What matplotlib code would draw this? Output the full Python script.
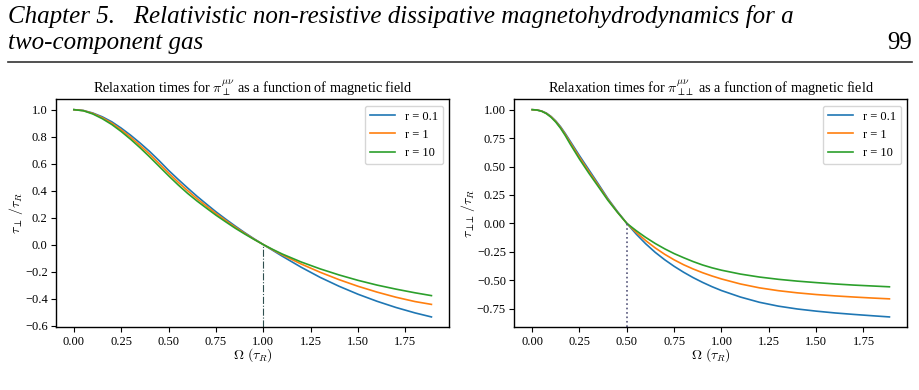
import matplotlib.pyplot as plt
from matplotlib.lines import Line2D

plt.rcParams['font.family'] = ['Liberation Serif', 'DejaVu Serif']
plt.rcParams['mathtext.fontset'] = 'cm'
plt.rcParams['font.size'] = 9

# values
r_labels = ["r = 0.1", "r = 1", "r = 10"]
colors = ["#1f77b4", "#ff7f0e", "#2ca02c"]

# left panel: tau_perp / tau_R
omega_left = [0, 0.05, 0.1, 0.15, 0.2, 0.25, 0.3, 0.35, 0.4, 0.45, 0.5,
              0.55, 0.6, 0.65, 0.7, 0.75, 0.8, 0.85, 0.9, 0.95, 1.0,
              1.05, 1.1, 1.2, 1.3, 1.4, 1.5, 1.6, 1.7, 1.8, 1.887]
tau_perp_r01 = [1.0, 0.994, 0.975, 0.947, 0.91, 0.863, 0.81, 0.752, 0.69, 0.622, 0.55,
                0.484, 0.42, 0.358, 0.30, 0.243, 0.19, 0.139, 0.09, 0.044, 0.0,
                -0.043, -0.086, -0.168, -0.243, -0.309, -0.368, -0.42, -0.466, -0.506, -0.536]
tau_perp_r1 = [1.0, 0.993, 0.972, 0.94, 0.90, 0.85, 0.795, 0.734, 0.67, 0.60, 0.53,
               0.463, 0.40, 0.34, 0.285, 0.23, 0.18, 0.131, 0.085, 0.041, 0.0,
               -0.039, -0.076, -0.144, -0.205, -0.26, -0.309, -0.352, -0.39, -0.422, -0.443]
tau_perp_r10 = [1.0, 0.992, 0.968, 0.933, 0.89, 0.838, 0.78, 0.717, 0.65, 0.58, 0.51,
                0.443, 0.38, 0.323, 0.27, 0.218, 0.17, 0.123, 0.08, 0.039, 0.0,
                -0.036, -0.07, -0.129, -0.18, -0.225, -0.265, -0.30, -0.33, -0.357, -0.378]

# right panel: tau_perpperp / tau_R
omega_right = [0, 0.025, 0.05, 0.075, 0.1, 0.125, 0.15, 0.175, 0.2, 0.25, 0.3,
               0.35, 0.4, 0.45, 0.5, 0.55, 0.6, 0.65, 0.7, 0.75, 0.8, 0.85, 0.9, 0.95,
               1.0, 1.1, 1.2, 1.3, 1.4, 1.5, 1.6, 1.7, 1.8, 1.887]
tau_pp_r01 = [1.0, 0.997, 0.988, 0.97, 0.94, 0.90, 0.85, 0.79, 0.725, 0.595, 0.47,
              0.345, 0.218, 0.105, 0.0, -0.095, -0.18, -0.255, -0.32, -0.378, -0.43,
              -0.477, -0.519, -0.557,
              -0.591, -0.648, -0.694, -0.728, -0.753, -0.772, -0.788, -0.801, -0.813, -0.823]
tau_pp_r1 = [1.0, 0.997, 0.987, 0.967, 0.937, 0.895, 0.843, 0.781, 0.713, 0.58, 0.455,
             0.333, 0.21, 0.10, 0.0, -0.08, -0.152, -0.216, -0.272, -0.321, -0.364,
             -0.401, -0.434, -0.463,
             -0.489, -0.533, -0.567, -0.592, -0.611, -0.626, -0.638, -0.648, -0.657, -0.664]
tau_pp_r10 = [1.0, 0.997, 0.986, 0.965, 0.933, 0.89, 0.836, 0.772, 0.70, 0.565, 0.44,
              0.322, 0.203, 0.098, 0.0, -0.065, -0.124, -0.177, -0.224, -0.266, -0.302,
              -0.336, -0.366, -0.391,
              -0.412, -0.446, -0.472, -0.492, -0.508, -0.521, -0.533, -0.543, -0.551, -0.558]

fig = plt.figure(figsize=(9.2, 3.9), dpi=100)

# page header
fig.text(8 / 920, 1 - 17 / 390,
         "Chapter 5.   Relativistic non-resistive dissipative magnetohydrodynamics for a",
         style="italic", fontsize=18, va="center", ha="left")
fig.text(8 / 920, 1 - 43 / 390, "two-component gas",
         style="italic", fontsize=18, va="center", ha="left")
fig.text(912 / 920, 1 - 43 / 390, "99", fontsize=18, va="center", ha="right")
fig.add_artist(Line2D([8 / 920, 912 / 920], [1 - 62 / 390, 1 - 62 / 390],
                      color="#333333", lw=1.2))

ax1 = fig.add_axes([56 / 920, 62.7 / 390, 393.3 / 920, 228 / 390])
ax2 = fig.add_axes([514.3 / 920, 62.7 / 390, 393 / 920, 228 / 390])

for ys, lab, c in zip([tau_perp_r01, tau_perp_r1, tau_perp_r10], r_labels, colors):
    ax1.plot(omega_left, ys, color=c, lw=1.2, label=lab)
for ys, lab, c in zip([tau_pp_r01, tau_pp_r1, tau_pp_r10], r_labels, colors):
    ax2.plot(omega_right, ys, color=c, lw=1.2, label=lab)

# vertical markers at the zero crossing
lo, hi = ax1.get_ylim()
ax1.vlines(1.0, lo, 0, colors="#2f4f4f", linestyles="dashdot", lw=0.8)
ax1.set_ylim(lo, hi)
lo, hi = ax2.get_ylim()
ax2.vlines(0.5, lo, 0, colors="#55557a", linestyles="dotted", lw=1.2)
ax2.set_ylim(lo, hi)

ax1.set_title(r"Relaxation times for $\pi_{\perp}^{\mu\nu}$ as a function of magnetic field",
              fontsize=10.3, pad=5)
ax2.set_title(r"Relaxation times for $\pi_{\perp\!\!\perp}^{\mu\nu}$ as a function of magnetic field",
              fontsize=10.3, pad=5)
ax1.set_ylabel(r"$\tau_{\perp}\,/\tau_R$", fontsize=10)
ax2.set_ylabel(r"$\tau_{\perp\!\!\perp}\,/\tau_R$", fontsize=10)
ax1.yaxis.set_label_coords(-0.079, 0.5)
ax2.yaxis.set_label_coords(-0.095, 0.5)
for ax in (ax1, ax2):
    ax.set_xlabel(r"$\Omega\ (\tau_R)$", fontsize=10)
    ax.xaxis.set_label_coords(0.5, -0.085)
    ax.tick_params(pad=2.5)
    ax.legend(loc="upper right", fontsize=9)
    for s in ax.spines.values():
        s.set_linewidth(1.0)

fig.savefig("out.png", dpi=100)
